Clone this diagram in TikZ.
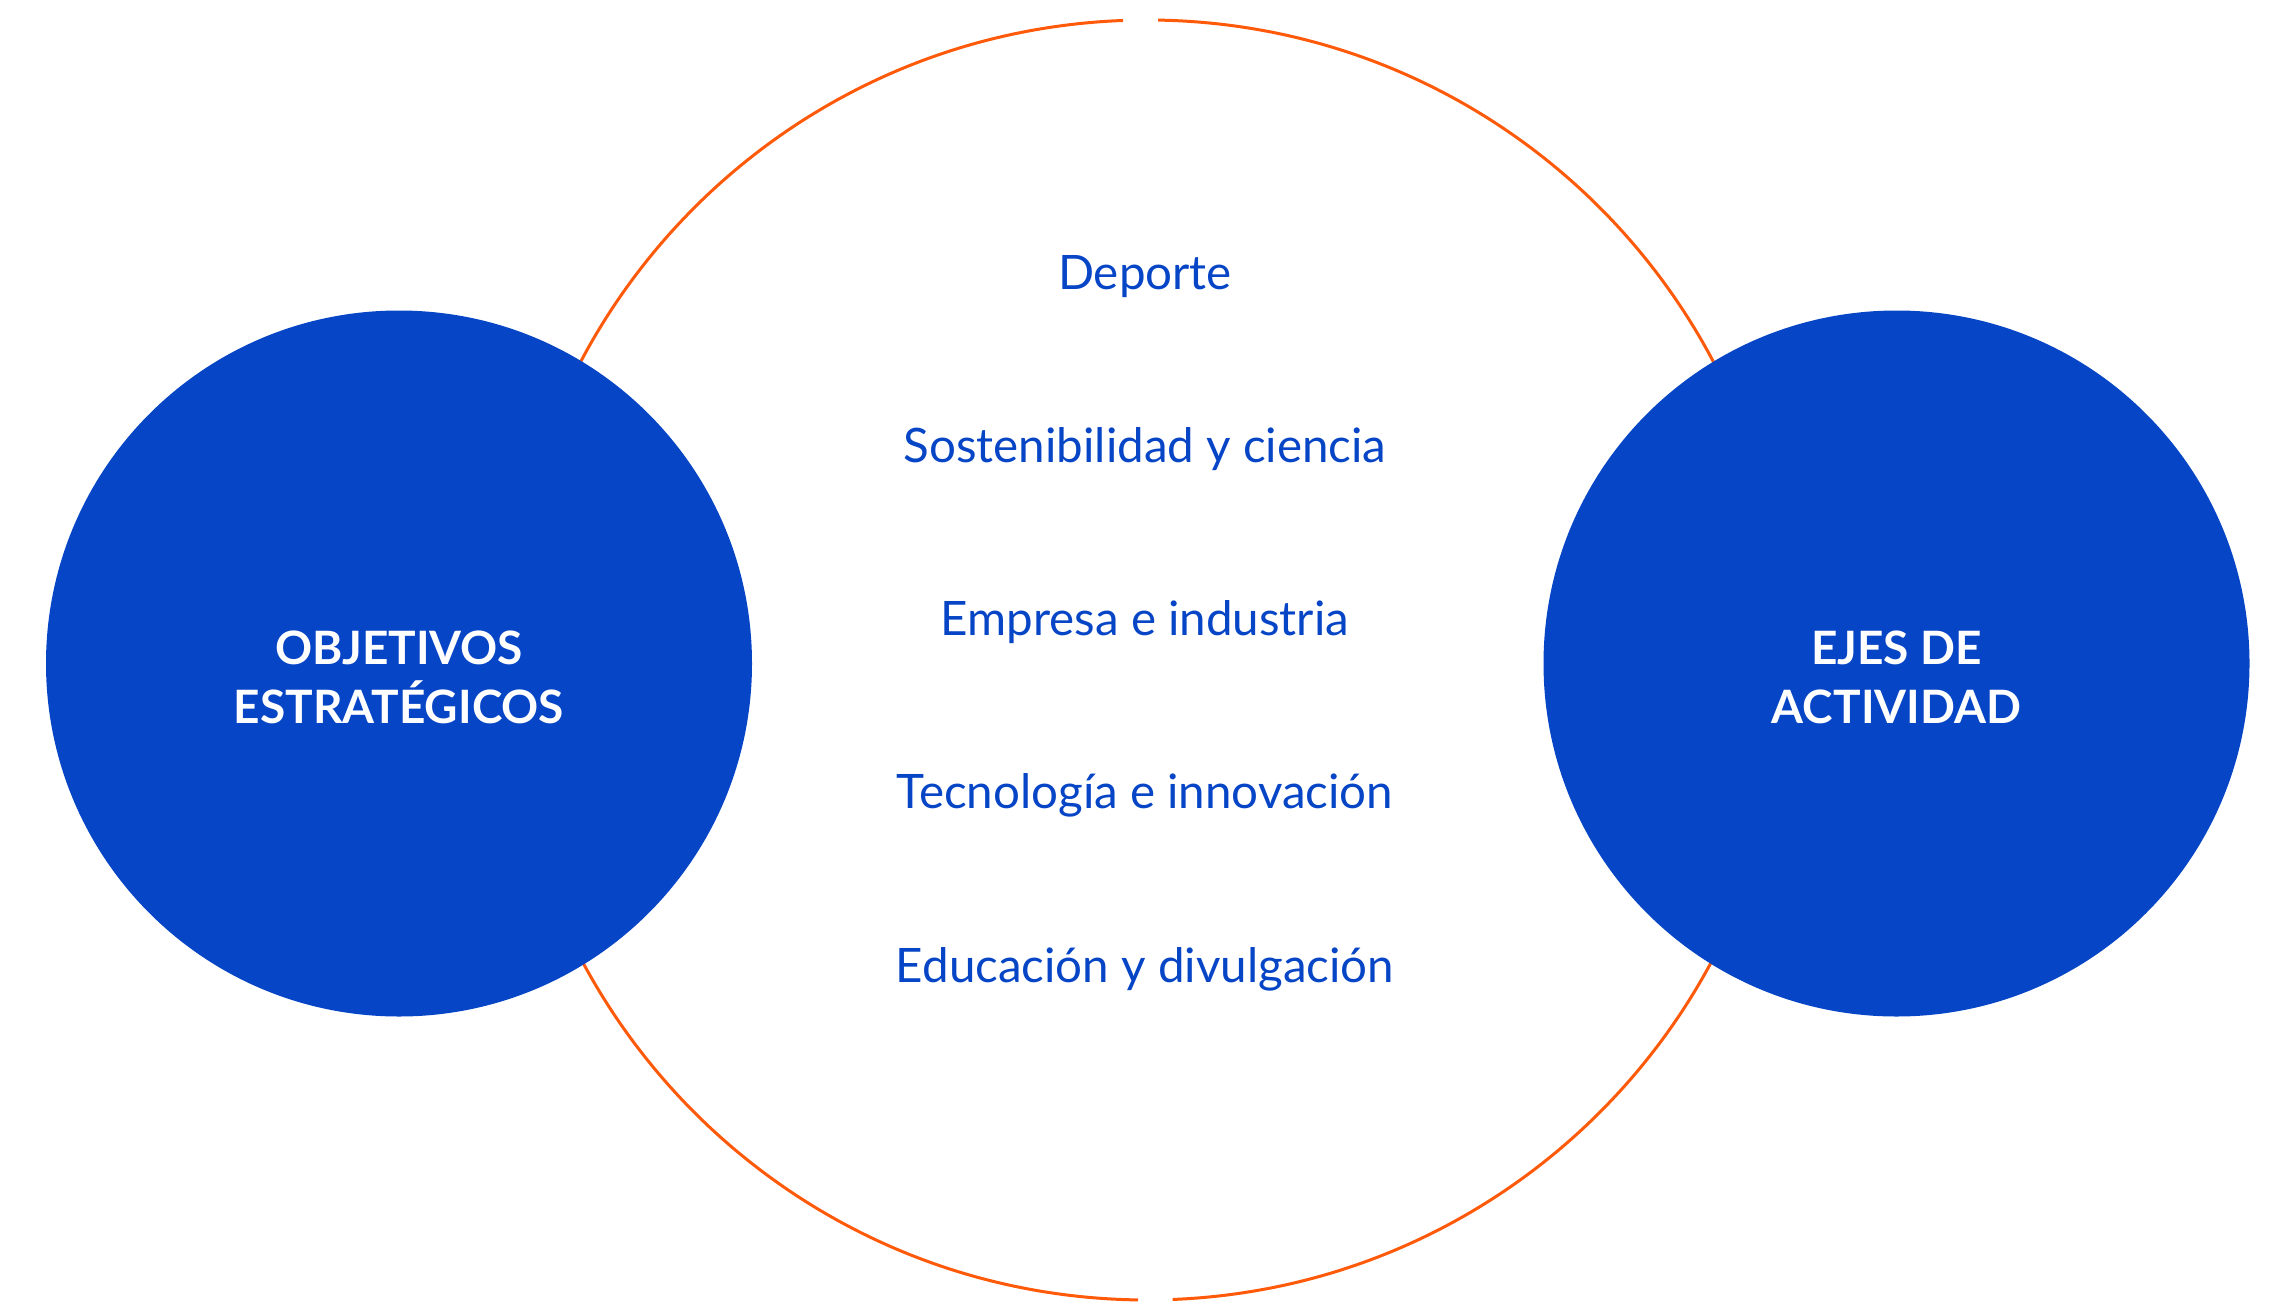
\documentclass[tikz,border=0pt]{standalone}
\usepackage{fontspec}
\setmainfont{Lato}
\usetikzlibrary{calc}
\definecolor{cblue}{HTML}{0645C6}
\definecolor{corange}{HTML}{FF5A0A}
\begin{document}
\begin{tikzpicture}[x=1pt,y=-1pt,
  disc/.style={circle,fill=cblue,draw=none,minimum size=706pt,inner sep=0pt},
  ringarc/.style={draw=corange,line width=3pt},
  axis/.style={text=cblue,font=\fontsize{47.5}{56}\selectfont,anchor=base,inner sep=0pt},
  title/.style={text=white,font=\fontsize{46}{54}\selectfont\bfseries,anchor=base,inner sep=0pt}]
\useasboundingbox (0,0) rectangle (2269,1306);
\coordinate (c) at (1147,660);
% ring (y axis points down: angle 270 is the top)
\draw[ringarc] ($(c)+(271.0:640)$) arc[start angle=271.0,end angle=447.7,radius=640];
\draw[ringarc] ($(c)+(90.8:640)$) arc[start angle=90.8,end angle=267.85,radius=640];
% discs
\node[disc] (obj) at (399,663.5) {};
\node[disc] (ejes) at (1896.5,663.5) {};
\node[title] (o1) at (399,664) {OBJETIVOS};
\node[title] (o2) at (399,723) {ESTRATÉGICOS};
\node[title] (e1) at (1896.5,664) {EJES DE};
\node[title] (e2) at (1896.5,723) {ACTIVIDAD};
% axes
\node[axis] (a1) at (1145,289) {Deporte};
\node[axis] (a2) at (1145,462.25) {Sostenibilidad y ciencia};
\node[axis] (a3) at (1145,635.5) {Empresa e industria};
\node[axis] (a4) at (1145,808.75) {Tecnología e innovación};
\node[axis] (a5) at (1145,982) {Educación y divulgación};
\end{tikzpicture}
\end{document}
